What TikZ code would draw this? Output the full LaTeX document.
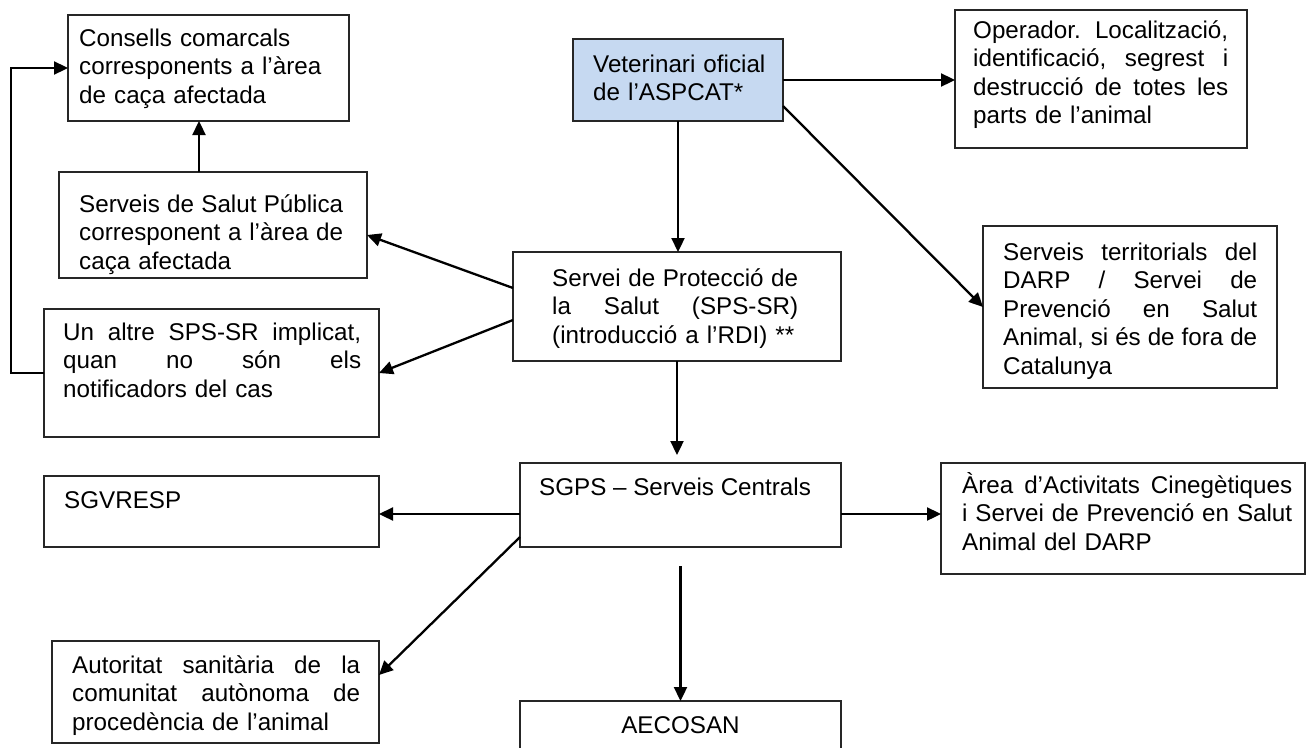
\documentclass[tikz,border=0pt]{standalone}
\usepackage{fontspec}
\setmainfont{Liberation Sans}
\usetikzlibrary{arrows.meta, positioning}
\definecolor{vetblue}{RGB}{198,217,241}
\newcommand{\jl}[1]{\leavevmode\hbox to \hsize{#1}}

\begin{document}
\begin{tikzpicture}[x=1pt, y=-1pt,
  box/.style={rectangle, draw=black!85, line width=1.2pt, anchor=north west, inner sep=0pt, outer sep=0pt},
  txt/.style={anchor=base west, inner sep=0pt, align=left, font=\fontsize{24.2}{28.5}\selectfont},
  arr/.style={-{Triangle[length=14pt, width=13pt]}, line width=2.3pt}]

\useasboundingbox (0,0) rectangle (1311,747);

% caixes
\node[box, minimum width=281pt, minimum height=106pt] (cons) at (68,15) {};
\node[box, minimum width=308pt, minimum height=106pt] (salut) at (59,172) {};
\node[box, fill=vetblue, minimum width=210pt, minimum height=82pt] (vet) at (573,39) {};
\node[box, minimum width=328pt, minimum height=109pt] (sps) at (513,252) {};
\node[box, minimum width=292pt, minimum height=138pt] (op) at (955,10) {};
\node[box, minimum width=294pt, minimum height=162pt] (terr) at (983,226) {};
\node[box, minimum width=335pt, minimum height=128pt] (altre) at (44,309) {};
\node[box, minimum width=335pt, minimum height=71pt] (sgv) at (44,476) {};
\node[box, minimum width=327pt, minimum height=102pt] (aut) at (52,641) {};
\node[box, minimum width=321pt, minimum height=84pt] (sgps) at (520,463) {};
\node[box, minimum width=364pt, minimum height=111pt] (area) at (941,463) {};
\node[box, minimum width=321pt, minimum height=52pt] (aec) at (520,701) {};

% textos
\node[txt, text width=265pt] (cons-t) at ([shift={(11,31)}]cons.north west) {Consells comarcals\\corresponents a l’àrea\\de caça afectada};
\node[txt, text width=264pt] (salut-t) at ([shift={(20,40)}]salut.north west) {\jl{Serveis\hfill de\hfill Salut\hfill Pública}\\\jl{corresponent\hfill a\hfill l’àrea\hfill de}\\caça afectada};
\node[txt, text width=185pt] (vet-t) at ([shift={(20,33)}]vet.north west) {Veterinari oficial\\de l’ASPCAT*};
\node[txt, text width=246pt] (sps-t) at ([shift={(39,34)}]sps.north west) {\jl{Servei\hfill de\hfill Protecció\hfill de}\\\jl{la\hfill Salut\hfill (SPS-SR)}\\(introducció a l’RDI) **};
\node[txt, text width=255pt] (op-t) at ([shift={(18,28)}]op.north west) {\jl{Operador.\hfill Localització,}\\\jl{identificació,\hfill segrest\hfill i}\\\jl{destrucció\hfill de\hfill totes\hfill les}\\parts de l’animal};
\node[txt, text width=254pt] (terr-t) at ([shift={(20,34)}]terr.north west) {\jl{Serveis\hfill territorials\hfill del}\\\jl{DARP\hfill /\hfill Servei\hfill de}\\\jl{Prevenció\hfill en\hfill Salut}\\\jl{Animal,\hfill si\hfill és\hfill de\hfill fora\hfill de}\\Catalunya};
\node[txt, text width=298pt] (altre-t) at ([shift={(19,31)}]altre.north west) {\jl{Un\hfill altre\hfill SPS-SR\hfill implicat,}\\\jl{quan\hfill no\hfill són\hfill els}\\notificadors del cas};
\node[txt] (sgv-t) at ([shift={(20,32)}]sgv.north west) {SGVRESP};
\node[txt, text width=288pt] (aut-t) at ([shift={(20,32)}]aut.north west) {\jl{Autoritat\hfill sanitària\hfill de\hfill la}\\\jl{comunitat\hfill autònoma\hfill de}\\procedència de l’animal};
\node[txt] (sgps-t) at ([shift={(19,32)}]sgps.north west) {SGPS – Serveis Centrals};
\node[txt, text width=330pt] (area-t) at ([shift={(21,30)}]area.north west) {\jl{Àrea\hfill d’Activitats\hfill Cinegètiques}\\\jl{i\hfill Servei\hfill de\hfill Prevenció\hfill en\hfill Salut}\\Animal del DARP};
\node[txt, anchor=base] (aec-t) at ([yshift=-32pt]aec.north) {AECOSAN};

% fletxes
\draw[arr] (vet.south) -- (vet.south |- sps.north);
\draw[arr] (vet.east) -- (vet.east -| op.west);
\draw[arr] ([yshift=-26pt]vet.east) -- (terr.west);
\draw[arr] ([yshift=-36pt]sps.north west) -- ([yshift=-10pt]salut.east);
\draw[arr] ([yshift=-68pt]sps.north west) -- (altre.east);
\draw[arr] ([xshift=-14pt]salut.north) -- ([xshift=-14pt]salut.north |- cons.south);
\draw[arr] (altre.west) -- ++(-33,0) |- (cons.west);
\draw[arr, shorten >=8pt] (sps.south) -- (sps.south |- sgps.north);
\draw[arr] ([yshift=-9pt]sgps.east) -- ([yshift=-9pt]sgps.east -| area.west);
\draw[arr] ([yshift=-9pt]sgps.west) -- ([yshift=-9pt]sgps.west -| sgv.east);
\draw[arr] ([yshift=-32pt]sgps.west) -- ([yshift=17pt]aut.east);
\draw[arr, shorten <=19pt] (sgps.south) -- (sgps.south |- aec.north);

\end{tikzpicture}
\end{document}
